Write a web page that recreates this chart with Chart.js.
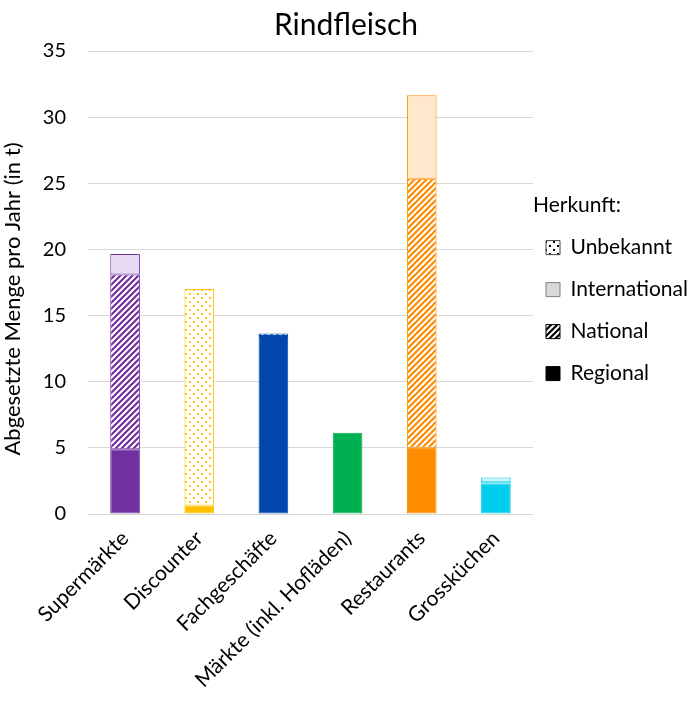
<!DOCTYPE html>
<html>
<head>
<meta charset="utf-8">
<script src="https://cdn.jsdelivr.net/npm/chart.js@4.4.1/dist/chart.umd.min.js"></script>
<style>
  html, body { margin: 0; padding: 0; background: #fff; }
</style>
</head>
<body>
<canvas id="myChart" width="692" height="703"></canvas>
<script>
// values (tonnes per year)
const categories = ["Supermärkte", "Discounter", "Fachgeschäfte", "Märkte (inkl. Hofläden)", "Restaurants", "Grossküchen"];
const regional = [4.9, 0.65, 13.45, 6.15, 5.0, 2.3];
const national = [13.2, 0, 0.2, 0, 20.35, 0.1];
const international = [1.55, 0, 0, 0, 6.3, 0.35];
const unbekannt = [0, 16.35, 0, 0, 0, 0];
const yTicks = [0, 5, 10, 15, 20, 25, 30, 35];

const barColors = ["#7030A0", "#FFC000", "#0047AB", "#00B050", "#FF8C00", "#00CCEE"];
const lightColors = ["#E6DAF2", "#FFF2CC", "#CCDAEE", "#CCEFDC", "#FFE8CC", "#CCF5FC"];
const FONT = "Lato, 'Open Sans', sans-serif";

function stripes(color) {
  const c = document.createElement("canvas");
  c.width = 6; c.height = 6;
  const x = c.getContext("2d");
  x.fillStyle = "#fff";
  x.fillRect(0, 0, 6, 6);
  x.strokeStyle = color;
  x.lineWidth = 2.2;
  x.beginPath();
  for (let k = -6; k <= 12; k += 6) {
    x.moveTo(k - 1, 7);
    x.lineTo(k + 7, -1);
  }
  x.stroke();
  return x.createPattern(c, "repeat");
}

function dots(color) {
  const c = document.createElement("canvas");
  c.width = 8; c.height = 8;
  const x = c.getContext("2d");
  x.fillStyle = "#fff";
  x.fillRect(0, 0, 8, 8);
  x.fillStyle = color;
  x.fillRect(1, 1, 2, 2);
  x.fillRect(5, 5, 2, 2);
  return x.createPattern(c, "repeat");
}

const legendFills = ["#000000", stripes("#000000"), "#D9D9D9", dots("#000000")];
const legendStrokes = ["#000000", "#000000", "#7F7F7F", "#404040"];

const segBorder = ctx => (ctx.raw ? 1 : 0);

const ctx = document.getElementById("myChart");
new Chart(ctx, {
  type: "bar",
  data: {
    labels: categories,
    datasets: [
      {
        label: "Regional",
        data: regional,
        backgroundColor: barColors,
        borderColor: barColors,
        borderWidth: segBorder,
      },
      {
        label: "National",
        data: national,
        backgroundColor: barColors.map(c => stripes(c)),
        borderColor: barColors,
        borderWidth: segBorder,
      },
      {
        label: "International",
        data: international,
        backgroundColor: lightColors,
        borderColor: barColors,
        borderWidth: segBorder,
      },
      {
        label: "Unbekannt",
        data: unbekannt,
        backgroundColor: barColors.map(c => dots(c)),
        borderColor: barColors,
        borderWidth: segBorder,
      },
    ],
  },
  options: {
    responsive: false,
    devicePixelRatio: 1,
    animation: false,
    datasets: {
      bar: { barPercentage: 0.4, categoryPercentage: 1.0, borderSkipped: false },
    },
    layout: { padding: { left: 0, right: 0, top: 0, bottom: 0 } },
    plugins: {
      title: {
        display: true,
        text: "Rindfleisch",
        color: "#000",
        font: { family: FONT, size: 30, weight: "normal" },
        padding: { top: 7, bottom: 8 },
      },
      tooltip: { enabled: false },
      legend: {
        position: "right",
        fullSize: false,
        reverse: true,
        maxWidth: 159,
        title: {
          display: true,
          text: "Herkunft:",
          position: "start",
          color: "#000",
          font: { family: FONT, size: 21 },
          padding: { top: 35, bottom: 4 },
        },
        labels: {
          color: "#000",
          font: { family: FONT, size: 21, lineHeight: 1.38 },
          boxWidth: 14,
          boxHeight: 14,
          padding: 13,
          // text as one-line arrays so each row takes the font's line height
          generateLabels: chart =>
            chart.data.datasets.map((ds, i) => ({
              text: [ds.label],
              fillStyle: legendFills[i],
              strokeStyle: legendStrokes[i],
              lineWidth: 1,
              hidden: false,
              datasetIndex: i,
            })),
        },
        onClick: () => {},
      },
    },
    scales: {
      x: {
        stacked: true,
        grid: { display: false },
        border: { display: false },
        ticks: {
          color: "#000",
          font: { family: FONT, size: 21 },
          maxRotation: 45,
          minRotation: 45,
          padding: 4,
        },
        afterFit: s => { s.height = 189; },
      },
      y: {
        stacked: true,
        min: 0,
        max: 35,
        afterBuildTicks: s => { s.ticks = yTicks.map(v => ({ value: v })); },
        grid: { color: "#D9D9D9", lineWidth: 1, drawTicks: false },
        border: { display: false },
        ticks: {
          color: "#000",
          font: { family: FONT, size: 20 },
          padding: 22,
        },
        title: {
          display: true,
          text: "Abgesetzte Menge pro Jahr (in t)\u2003\u2003",
          color: "#000",
          font: { family: FONT, size: 22 },
          padding: { top: 0, bottom: 2 },
        },
        afterFit: s => { s.width = 88; },
      },
    },
  },
});
</script>
</body>
</html>
